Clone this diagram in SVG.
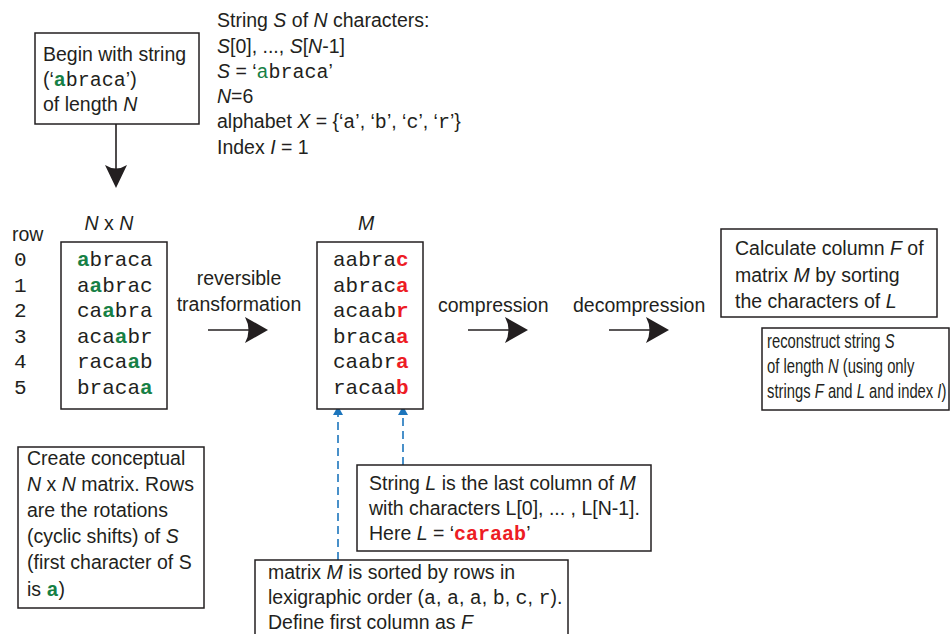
<svg xmlns="http://www.w3.org/2000/svg" width="951" height="634" viewBox="0 0 951 634">
<style>
text{font-family:"Liberation Sans",Arial,sans-serif;font-size:19.5px;fill:#231f20}
.i{font-style:italic}
.m{font-family:"Liberation Mono","Courier New",monospace;font-size:20px}
.mx{font-family:"Liberation Mono","Courier New",monospace;font-size:21px}
.g{fill:#168045;font-weight:bold}
.gn{fill:#168045}
.r{fill:#ed1c24;font-weight:bold}
.box{fill:#fff;stroke:#231f20;stroke-width:1.5}
.ln{stroke:#231f20;stroke-width:1.6;fill:none}
.ah{fill:#231f20}
.dash{stroke:#1c75bc;stroke-width:1.6;stroke-dasharray:8 5;fill:none}
.bh{fill:#1c75bc}
</style>
<rect width="951" height="634" fill="#fff"/>
<g id="connectors">
<line class="ln" x1="116" y1="124" x2="116" y2="172"/>
<path class="ah" d="M116,188 L105,165 Q116,172 127,165 Z"/>
<line class="ln" x1="208" y1="330" x2="254" y2="330"/>
<path class="ah" d="M268,330 L245,317 Q252,330 245,343 Z"/>
<line class="ln" x1="468" y1="330" x2="514" y2="330"/>
<path class="ah" d="M528,330 L505,317 Q512,330 505,343 Z"/>
<line class="ln" x1="609" y1="330" x2="655" y2="330"/>
<path class="ah" d="M669,330 L646,317 Q653,330 646,343 Z"/>
<line class="dash" x1="338" y1="560" x2="338" y2="414"/>
<path class="bh" d="M338,406 L333,415 L343,415 Z"/>
<line class="dash" x1="403" y1="465" x2="403" y2="414"/>
<path class="bh" d="M403,406 L398,415 L408,415 Z"/>
</g>
<g id="begin">
<rect class="box" x="35" y="33" width="164" height="91"/>
<text x="43" y="61">Begin with string</text>
<text x="43" y="86">(‘<tspan class="m g">a</tspan><tspan class="m">braca</tspan>’)</text>
<text x="43" y="111">of length <tspan class="i">N</tspan></text>
</g>
<g id="info">
<text x="217" y="27">String <tspan class="i">S</tspan> of <tspan class="i">N</tspan> characters:</text>
<text x="217" y="53"><tspan class="i">S</tspan>[0], ..., <tspan class="i">S</tspan>[<tspan class="i">N</tspan>-1]</text>
<text x="217" y="78"><tspan class="i">S</tspan> = ‘<tspan class="m gn">a</tspan><tspan class="m">braca</tspan>’</text>
<text x="217" y="103"><tspan class="i">N</tspan>=6</text>
<text x="217" y="128">alphabet <tspan class="i">X</tspan> = {‘<tspan class="m">a</tspan>’, ‘<tspan class="m">b</tspan>’, ‘<tspan class="m">c</tspan>’, ‘<tspan class="m">r</tspan>’}</text>
<text x="217" y="154">Index <tspan class="i">I</tspan> = 1</text>
</g>
<g id="rows">
<text x="12" y="241">row</text>
<text class="mx" x="14" y="266">0</text>
<text class="mx" x="14" y="292">1</text>
<text class="mx" x="14" y="317">2</text>
<text class="mx" x="14" y="343">3</text>
<text class="mx" x="14" y="368">4</text>
<text class="mx" x="14" y="394">5</text>
</g>
<g id="nxn">
<text x="109" y="230" text-anchor="middle"><tspan class="i">N</tspan> x <tspan class="i">N</tspan></text>
<rect class="box" x="61" y="242" width="106" height="167"/>
<text class="mx" x="77" y="266"><tspan class="g">a</tspan>braca</text>
<text class="mx" x="77" y="292">a<tspan class="g">a</tspan>brac</text>
<text class="mx" x="77" y="317">ca<tspan class="g">a</tspan>bra</text>
<text class="mx" x="77" y="343">aca<tspan class="g">a</tspan>br</text>
<text class="mx" x="77" y="368">raca<tspan class="g">a</tspan>b</text>
<text class="mx" x="77" y="394">braca<tspan class="g">a</tspan></text>
</g>
<g id="transform-label">
<text x="239" y="285" text-anchor="middle">reversible</text>
<text x="239" y="311" text-anchor="middle">transformation</text>
</g>
<g id="matrixM">
<text x="366" y="230" text-anchor="middle" class="i">M</text>
<rect class="box" x="317" y="242" width="106" height="167"/>
<text class="mx" x="333" y="266">aabra<tspan class="r">c</tspan></text>
<text class="mx" x="333" y="292">abrac<tspan class="r">a</tspan></text>
<text class="mx" x="333" y="317">acaab<tspan class="r">r</tspan></text>
<text class="mx" x="333" y="343">braca<tspan class="r">a</tspan></text>
<text class="mx" x="333" y="368">caabr<tspan class="r">a</tspan></text>
<text class="mx" x="333" y="394">racaa<tspan class="r">b</tspan></text>
</g>
<g id="compression">
<text x="438" y="312">compression</text>
</g>
<g id="decompression">
<text x="573" y="312">decompression</text>
</g>
<g id="calcF">
<rect class="box" x="721" y="229" width="216" height="88"/>
<text x="735" y="255">Calculate column <tspan class="i">F</tspan> of</text>
<text x="735" y="282">matrix <tspan class="i">M</tspan> by sorting</text>
<text x="735" y="308">the characters of <tspan class="i">L</tspan></text>
</g>
<g id="reconstruct">
<rect class="box" x="762" y="328" width="187" height="82"/>
<g transform="translate(767,0) scale(0.76,1)">
<text x="0" y="348">reconstruct string <tspan class="i">S</tspan></text>
<text x="0" y="373">of length <tspan class="i">N</tspan> (using only</text>
<text x="0" y="398">strings <tspan class="i">F</tspan> and <tspan class="i">L</tspan> and index <tspan class="i">I</tspan>)</text>
</g>
</g>
<g id="conceptual">
<rect class="box" x="18" y="447" width="186" height="161"/>
<text x="27" y="465">Create conceptual</text>
<text x="27" y="491"><tspan class="i">N</tspan> x <tspan class="i">N</tspan> matrix. Rows</text>
<text x="27" y="517">are the rotations</text>
<text x="27" y="543">(cyclic shifts) of <tspan class="i">S</tspan></text>
<text x="27" y="569">(first character of S</text>
<text x="27" y="596">is <tspan class="m g">a</tspan>)</text>
</g>
<g id="stringL">
<rect class="box" x="357" y="465" width="294" height="86"/>
<text x="369" y="490">String <tspan class="i">L</tspan> is the last column of <tspan class="i">M</tspan></text>
<text x="369" y="515">with characters L[0], ... , L[N-1].</text>
<text x="369" y="540">Here <tspan class="i">L</tspan> = ‘<tspan class="m r">caraab</tspan>’</text>
</g>
<g id="sorted">
<rect class="box" x="255" y="560" width="313" height="85"/>
<text x="268" y="579">matrix <tspan class="i">M</tspan> is sorted by rows in</text>
<text x="268" y="604">lexigraphic order (<tspan class="m">a</tspan>, <tspan class="m">a</tspan>, <tspan class="m">a</tspan>, <tspan class="m">b</tspan>, <tspan class="m">c</tspan>, <tspan class="m">r</tspan>).</text>
<text x="268" y="629">Define first column as <tspan class="i">F</tspan></text>
</g>
</svg>
